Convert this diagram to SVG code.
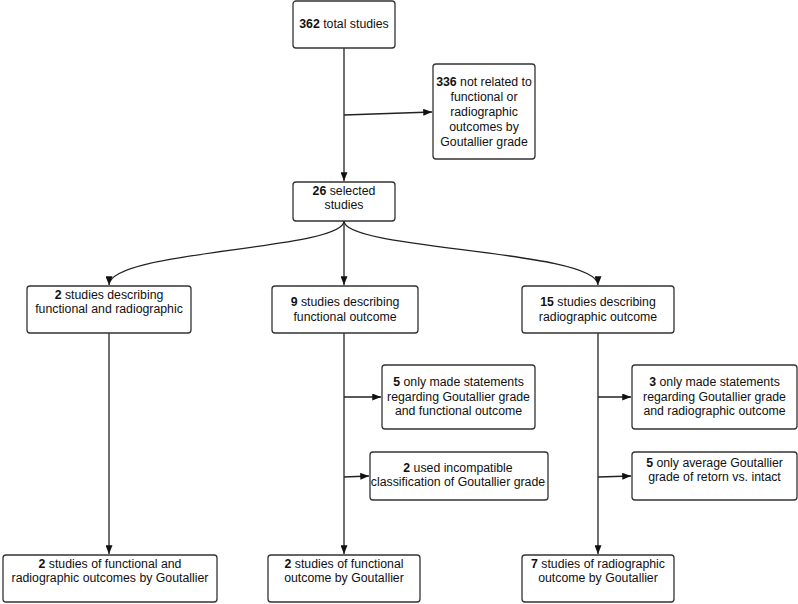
<svg xmlns="http://www.w3.org/2000/svg" width="798" height="604" viewBox="0 0 798 604">
<style>
  .box { fill: #ffffff; stroke: #333333; stroke-width: 1.3; }
  .t { font-family: "Liberation Sans", Arial, sans-serif; font-size: 12.3px; fill: #111111; text-anchor: middle; }
  .b { font-weight: bold; }
  .c { fill: none; stroke: #222222; stroke-width: 1.3; }
</style>
<defs>
  <marker id="ah" viewBox="0 0 10 8" refX="10" refY="4" markerWidth="9" markerHeight="7" markerUnits="userSpaceOnUse" orient="auto">
    <path d="M0,0 L10,4 L0,8 z" fill="#111111"/>
  </marker>
</defs>
<rect width="798" height="604" fill="#ffffff"/>
<g id="connectors">
  <path class="c" d="M344,48 L344,181" marker-end="url(#ah)"/>
  <path class="c" d="M344,115 L432,112" marker-end="url(#ah)"/>
  <path class="c" d="M344,221 C344,250 109,250 109,285" marker-end="url(#ah)"/>
  <path class="c" d="M344,221 L344,285" marker-end="url(#ah)"/>
  <path class="c" d="M344,221 C344,250 598,250 598,285" marker-end="url(#ah)"/>
  <path class="c" d="M109,333 L109,554" marker-end="url(#ah)"/>
  <path class="c" d="M344,333 L344,554" marker-end="url(#ah)"/>
  <path class="c" d="M598,333 L598,554" marker-end="url(#ah)"/>
  <path class="c" d="M344,397 L381,397" marker-end="url(#ah)"/>
  <path class="c" d="M344,477 L369,476" marker-end="url(#ah)"/>
  <path class="c" d="M598,397 L631,397" marker-end="url(#ah)"/>
  <path class="c" d="M598,477 L631,476" marker-end="url(#ah)"/>
</g>
<g id="n362">
  <rect class="box" x="293" y="1" width="102" height="47" rx="3"/>
  <text class="t" x="344" y="28"><tspan class="b">362</tspan> total studies</text>
</g>
<g id="n336">
  <rect class="box" x="433" y="64" width="102" height="95" rx="3"/>
  <text class="t" x="484" y="86"><tspan class="b">336</tspan> not related to</text>
  <text class="t" x="484" y="101">functional or</text>
  <text class="t" x="484" y="116">radiographic</text>
  <text class="t" x="484" y="131">outcomes by</text>
  <text class="t" x="484" y="145.5">Goutallier grade</text>
</g>
<g id="n26">
  <rect class="box" x="293" y="182" width="102" height="39" rx="3"/>
  <text class="t" x="344" y="194.5"><tspan class="b">26</tspan> selected</text>
  <text class="t" x="344" y="208.5">studies</text>
</g>
<g id="n2desc">
  <rect class="box" x="27" y="286" width="164" height="47" rx="3"/>
  <text class="t" x="109" y="298.5"><tspan class="b">2</tspan> studies describing</text>
  <text class="t" x="109" y="313">functional and radiographic</text>
</g>
<g id="n9desc">
  <rect class="box" x="272" y="286" width="146" height="47" rx="3"/>
  <text class="t" x="345" y="305.5"><tspan class="b">9</tspan> studies describing</text>
  <text class="t" x="345" y="320.5">functional outcome</text>
</g>
<g id="n15desc">
  <rect class="box" x="522" y="286" width="152" height="47" rx="3"/>
  <text class="t" x="598" y="305.5"><tspan class="b">15</tspan> studies describing</text>
  <text class="t" x="598" y="320.5">radiographic outcome</text>
</g>
<g id="n5made">
  <rect class="box" x="382" y="365" width="153" height="64" rx="3"/>
  <text class="t" x="458.5" y="386"><tspan class="b">5</tspan> only made statements</text>
  <text class="t" x="458.5" y="400.5">regarding Goutallier grade</text>
  <text class="t" x="458.5" y="415">and functional outcome</text>
</g>
<g id="n2used">
  <rect class="box" x="370" y="452" width="178" height="48" rx="3"/>
  <text class="t" x="458" y="471.5"><tspan class="b">2</tspan> used incompatible</text>
  <text class="t" x="458" y="486">classification of Goutallier grade</text>
</g>
<g id="n3made">
  <rect class="box" x="632" y="365" width="165" height="64" rx="3"/>
  <text class="t" x="714.5" y="386"><tspan class="b">3</tspan>  only made statements</text>
  <text class="t" x="714.5" y="400.5">regarding Goutallier grade</text>
  <text class="t" x="714.5" y="415">and radiographic outcome</text>
</g>
<g id="n5avg">
  <rect class="box" x="632" y="452" width="165" height="48" rx="3"/>
  <text class="t" x="714.5" y="467"><tspan class="b">5</tspan> only average Goutallier</text>
  <text class="t" x="714.5" y="481">grade of retorn vs. intact</text>
</g>
<g id="n2final">
  <rect class="box" x="3" y="555" width="214" height="47" rx="3"/>
  <text class="t" x="110" y="568"><tspan class="b">2</tspan> studies of functional and</text>
  <text class="t" x="110" y="582">radiographic outcomes by Goutallier</text>
</g>
<g id="n2func">
  <rect class="box" x="268" y="555" width="152" height="47" rx="3"/>
  <text class="t" x="344" y="568"><tspan class="b">2</tspan> studies of functional</text>
  <text class="t" x="344" y="582">outcome by Goutallier</text>
</g>
<g id="n7rad">
  <rect class="box" x="522" y="555" width="152" height="47" rx="3"/>
  <text class="t" x="598" y="568"><tspan class="b">7</tspan> studies of radiographic</text>
  <text class="t" x="598" y="582">outcome by Goutallier</text>
</g>
</svg>
